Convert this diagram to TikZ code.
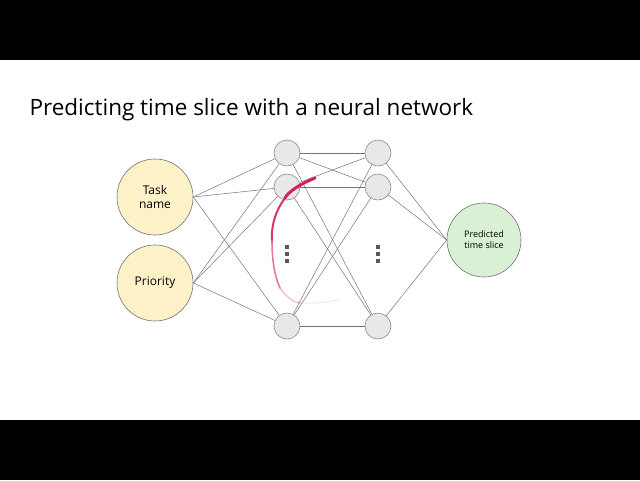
\documentclass[tikz,border=0pt]{standalone}
\usepackage{fontspec}
\setmainfont{Open Sans}
\begin{document}
\begin{tikzpicture}[x=1pt,y=-1pt,
  hid/.style={circle,draw=black!45,fill=black!9,minimum size=26pt,inner sep=0pt,line width=0.6pt},
  inp/.style={circle,draw=black!55,minimum size=76pt,inner sep=0pt,line width=0.6pt,align=center,font=\fontsize{12}{14}\selectfont},
  outn/.style={circle,draw=black!55,minimum size=74pt,inner sep=0pt,line width=0.6pt,align=center,font=\fontsize{9}{11}\selectfont},
  con/.style={draw=black!55,line width=0.5pt},
  dot/.style={fill=black!65,minimum size=3.5pt,inner sep=0pt,rectangle}]
\useasboundingbox (0,0) rectangle (640,480);
\fill[black] (0,0) rectangle (640,60);
\fill[black] (0,420) rectangle (640,480);
\node[anchor=west,font=\fontsize{22.5}{26}\selectfont] (title) at (26,110) {Predicting time slice with a neural network};
\node[inp,fill={rgb,255:red,253;green,241;blue,200}] (t) at (155,197) {Task\\name};
\node[inp,fill={rgb,255:red,253;green,241;blue,200}] (p) at (155,283) {Priority};
\node[outn,fill={rgb,255:red,218;green,240;blue,212}] (o) at (484,240) {Predicted\\time slice};
\node[hid] (a1) at (287,153) {};
\node[hid] (a2) at (287,187) {};
\node[hid] (a3) at (287,326) {};
\node[hid] (b1) at (378,153) {};
\node[hid] (b2) at (378,187) {};
\node[hid] (b3) at (378,326) {};
\foreach \x/\n in {287/a,378/b}{
  \node[dot] (\n d1) at (\x,247) {};
  \node[dot] (\n d2) at (\x,254) {};
  \node[dot] (\n d3) at (\x,261) {};
}
\foreach \i in {t,p}{\foreach \j in {a1,a2,a3}{\draw[con] (\i.east) -- (\j);}}
\foreach \i in {a1,a2,a3}{\foreach \j in {b1,b2,b3}{\draw[con] (\i) -- (\j);}}
\foreach \i in {b1,b2,b3}{\draw[con] (\i) -- (o.west);}
\coordinate (r0) at (315,178);
\coordinate (r1) at (285,198);
\coordinate (r2) at (272,240);
\coordinate (r3) at (280,288);
\coordinate (r4) at (300,303);
\coordinate (r5) at (340,299);
\draw[line cap=round,line width=3pt,color={rgb,255:red,214;green,32;blue,90}] (r0) .. controls (300,184) and (288,192) .. (r1);
\draw[line cap=round,line width=2pt,color={rgb,255:red,214;green,32;blue,90},opacity=0.9] (r1) .. controls (276,210) and (271,225) .. (r2);
\draw[line cap=round,line width=1.6pt,color={rgb,255:red,214;green,32;blue,90},opacity=0.6] (r2) .. controls (272,258) and (274,275) .. (r3);
\draw[line cap=round,line width=1.3pt,color={rgb,255:red,214;green,32;blue,90},opacity=0.3] (r3) .. controls (286,296) and (292,302) .. (r4);
\draw[line cap=round,line width=1pt,color={rgb,255:red,214;green,32;blue,90},opacity=0.12] (r4) .. controls (315,304) and (330,302) .. (r5);
\end{tikzpicture}
\end{document}
